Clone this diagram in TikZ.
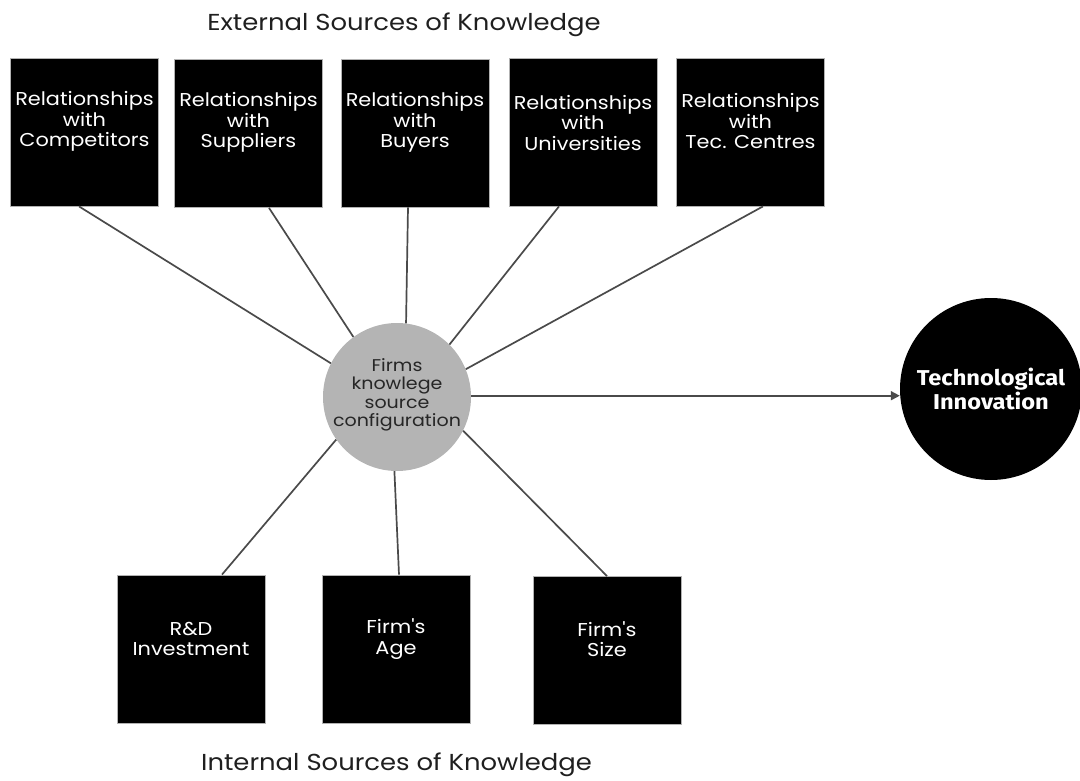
\documentclass[tikz,border=0pt]{standalone}
\usepackage{fontspec}
\setmainfont{Poppins}[FakeStretch=1.12,Ligatures=TeXOff]
\newfontfamily\headfont{Fira Sans}[FakeStretch=1.1]
\usetikzlibrary{arrows.meta}
\definecolor{linkgray}{HTML}{4A4A4A}
\definecolor{hubgray}{HTML}{B4B4B4}
\begin{document}
\begin{tikzpicture}[x=1pt,y=-1pt,
  srcbox/.style={draw=gray!60,line width=0.8pt,fill=black,minimum width=148pt,minimum height=148pt,inner sep=0pt},
  boxtext/.style={text=white,align=center,font=\fontsize{18.6}{20.5}\selectfont,inner sep=0pt},
  heading/.style={font=\fontsize{23.1}{26}\selectfont,text=black!88,inner sep=0pt},
  link/.style={draw=linkgray,line width=1.7pt},
  hub/.style={circle,fill=hubgray,minimum size=148pt,inner sep=0pt},
  hubtext/.style={align=center,font=\fontsize{17}{18.5}\selectfont,text=black!85,inner sep=0pt},
  goal/.style={circle,fill=black,minimum size=182pt,inner sep=0pt,align=center,text=white,font=\headfont\bfseries\fontsize{21.5}{21}\selectfont}]
\useasboundingbox (0,0) rectangle (1080,781);

% headings
\node[heading] (ext) at (404,24.5) {External Sources of Knowledge};
\node[heading] (int) at (396.5,765) {Internal Sources of Knowledge};

% external sources
\node[srcbox] (b1) at (84.5,132) {};
\node[srcbox] (b2) at (248.5,133.5) {};
\node[srcbox] (b3) at (415,133) {};
\node[srcbox] (b4) at (583,132) {};
\node[srcbox] (b5) at (750.5,132) {};
\node[boxtext] (t1) at (84.5,121.5) {Relationships\\with\\Competitors};
\node[boxtext] (t2) at (248.5,122.5) {Relationships\\with\\Suppliers};
\node[boxtext] (t3) at (415,122.5) {Relationships\\with\\Buyers};
\node[boxtext] (t4) at (583,123) {Relationships\\with\\Universities};
\node[boxtext] (t5) at (750.5,121.5) {Relationships\\with\\Tec. Centres};

% internal sources
\node[srcbox] (d1) at (191,649) {};
\node[srcbox] (d2) at (396,649) {};
\node[srcbox] (d3) at (607,650.5) {};
\node[boxtext] (u1) at (191,639) {R\&D\\Investment};
\node[boxtext] (u2) at (396,639) {Firm's\\Age};
\node[boxtext] (u3) at (607,639) {Firm's\\Size};

% hub and outcome
\node[hub] (c) at (397,397) {};
\node[hubtext] (ct) at (397,395) {Firms\\knowlege\\source\\configuration};
\node[goal] (ti) at (991,389) {Technological\\Innovation};

% connectors
\draw[link] ([xshift=-5.5pt]b1.south) -- (c.153.8);
\draw[link] ([xshift=20.5pt]b2.south) -- (c.126.3);
\draw[link] ([xshift=-7pt]b3.south) -- (c.83.9);
\draw[link] ([xshift=-24pt]b4.south) -- (c.45.5);
\draw[link] ([xshift=12.5pt]b5.south) -- (c.22.5);
\draw[link] ([xshift=31pt]d1.north) -- (c.215);
\draw[link] ([xshift=3pt]d2.north) -- (c.268.5);
\draw[link] (d3.north) -- (c.333.4);
\draw[link,-{Triangle[length=9pt,width=9pt]}] (c.1.5) -- (c.1.5 -| ti.west);
\end{tikzpicture}
\end{document}
